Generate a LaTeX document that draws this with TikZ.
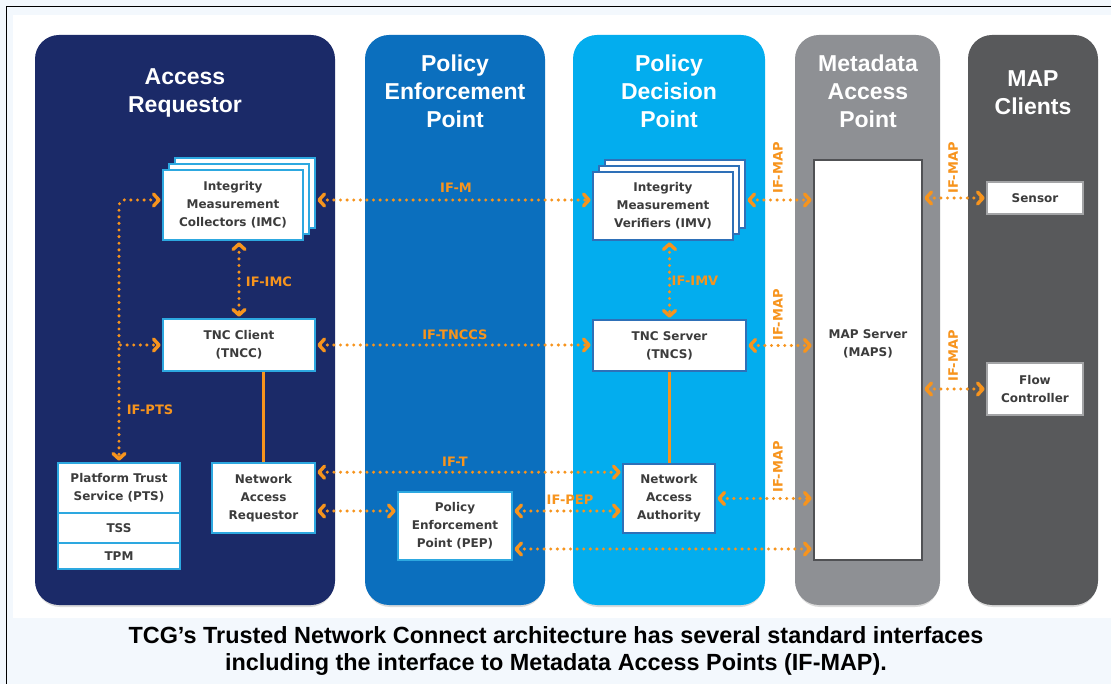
\documentclass[tikz,border=0pt]{standalone}
\usepackage{fontspec}
\setmainfont{Liberation Sans}
\newfontfamily\labelfont{DejaVu Sans}
\usetikzlibrary{arrows.meta,calc,shadows}

\definecolor{pagebg}{HTML}{F3F8FD}
\definecolor{arcol}{HTML}{1B2A68}
\definecolor{pepcol}{HTML}{0B6FBE}
\definecolor{pdpcol}{HTML}{03ADEE}
\definecolor{mapcol}{HTML}{8E9094}
\definecolor{clientcol}{HTML}{58595B}
\definecolor{ifcol}{HTML}{F7941D}
\definecolor{edgelight}{HTML}{2DA8E0}
\definecolor{edgepdp}{HTML}{2E70B8}
\definecolor{edgemap}{HTML}{505154}
\definecolor{edgeclient}{HTML}{A3A4A6}
\definecolor{boxtext}{HTML}{3C3C3C}

\tikzset{
  chev/.tip={Straight Barb[length=5.5pt,width=12pt,round]},
  column/.style={rounded corners=24pt},
  coltitle/.style={text=white, align=center, inner sep=0pt,
    font=\fontsize{23}{28}\selectfont\bfseries},
  box/.style={draw, fill=white, line width=1.6pt, inner sep=0pt, align=center,
    text=boxtext, font=\labelfont\fontsize{12}{18}\selectfont\bfseries},
  arbox/.style={box, draw=edgelight},
  pdpbox/.style={box, draw=edgepdp},
  mapbox/.style={box, draw=edgemap},
  clientbox/.style={box, draw=edgeclient},
  stacked/.style={double copy shadow={shadow xshift=6pt, shadow yshift=6pt,
    fill=white, draw=#1, line width=1.6pt}},
  boxlabel/.style={inner sep=0pt, align=center, text=boxtext,
    font=\labelfont\fontsize{12}{18}\selectfont\bfseries},
  ifline/.style={ifcol, line width=3.4pt, line cap=round,
    dash pattern=on 0pt off 6.6pt, arrows=chev-chev,
    shorten <=1.5pt, shorten >=1.5pt},
  link/.style={ifcol, line width=3pt},
  iflabel/.style={text=ifcol, inner sep=0pt,
    font=\labelfont\fontsize{13}{13}\selectfont\bfseries},
  caption/.style={align=center, inner sep=0pt, text=black,
    font=\fontsize{23.4}{27}\selectfont\bfseries},
}

\begin{document}
\begin{tikzpicture}[x=1pt,y=-1pt]
  % page, frame and white drawing area
  \useasboundingbox (0,0) rectangle (1111,684);
  \fill[pagebg] (0,0) rectangle (1111,684);
  \fill[white] (13,15) rectangle (1111,618);
  \draw[black, line width=1.6pt] (6.5,684) -- (6.5,6.5) -- (1111,6.5);

  % the five columns, each with a soft darker lower rim
  \foreach \xa/\xb/\col in {35/335/arcol, 365/545/pepcol, 573/765/pdpcol,
                            795/940/mapcol, 968/1098/clientcol} {
    \fill[black!55, opacity=0.25, column] (\xa+1,37) rectangle (\xb-1,607);
    \fill[\col, column] (\xa,35) rectangle (\xb,605);
  }

  \node[coltitle] (tar)  at (185,93)  {Access\\Requestor};
  \node[coltitle] (tpep) at (455,91)  {Policy\\Enforcement\\Point};
  \node[coltitle] (tpdp) at (669,91)  {Policy\\Decision\\Point};
  \node[coltitle] (tmap) at (868,91)  {Metadata\\Access\\Point};
  \node[coltitle] (tcli) at (1033,93) {MAP\\Clients};

  % Access Requestor
  \node[arbox, stacked=edgelight, minimum width=140pt, minimum height=70pt]
    (imc) at (233,205) {Integrity\\Measurement\\Collectors (IMC)};
  \node[arbox, minimum width=152pt, minimum height=52pt]
    (tncc) at (239,345) {TNC Client\\(TNCC)};
  \node[arbox, minimum width=122pt, minimum height=50pt]
    (pts) at (119,488) {Platform Trust\\Service (PTS)};
  \node[arbox, minimum width=122pt, minimum height=30pt]
    (tss) at (119,528) {TSS};
  \node[arbox, minimum width=122pt, minimum height=26pt]
    (tpm) at (119,556) {TPM};
  \node[arbox, minimum width=103pt, minimum height=70pt]
    (nar) at (263.5,498) {Network\\Access\\Requestor};

  % Policy Enforcement Point
  \node[arbox, minimum width=114pt, minimum height=68pt]
    (pep) at (455,526) {Policy\\Enforcement\\Point (PEP)};

  % Policy Decision Point
  \node[pdpbox, stacked=edgepdp, minimum width=140pt, minimum height=68pt]
    (imv) at (663,206) {Integrity\\Measurement\\Verifiers (IMV)};
  \node[pdpbox, minimum width=153pt, minimum height=51pt]
    (tncs) at (669.5,345.5) {TNC Server\\(TNCS)};
  \node[pdpbox, minimum width=92pt, minimum height=69pt]
    (naa) at (669,498.5) {Network\\Access\\Authority};

  % Metadata Access Point
  \node[mapbox, minimum width=108pt, minimum height=400pt]
    (maps) at (868,360) {};
  \node[boxlabel] (mapstext) at (868,344) {MAP Server\\(MAPS)};

  % MAP Clients
  \node[clientbox, minimum width=96pt, minimum height=32pt]
    (sensor) at (1035,198) {Sensor};
  \node[clientbox, minimum width=96pt, minimum height=52pt]
    (flow) at (1035,389) {Flow\\Controller};

  % solid links between client/server and the network components
  \draw[link] (tncc.south -| nar.north) -- (nar.north);
  \draw[link] (naa.north |- tncs.south) -- (naa.north);

  % interfaces
  \draw[ifline] ($(imc.east)+(12,-5)$) coordinate (ifm) -- (ifm -| imv.west);
  \draw[ifline] (tncc.north |- imc.south) -- (tncc.north);
  \draw[ifline, rounded corners=5pt] ($(imc.west)+(0,-5)$) -| (pts.north);
  \draw[ifline, arrows=-chev] (tncc.west -| pts.north) -- (tncc.west);
  \draw[ifline] (tncc.east) -- (tncc.east -| tncs.west);
  \draw[ifline] (tncs.north |- imv.south) -- (tncs.north);
  \draw[ifline] ($(nar.north east)+(0,10)$) coordinate (ift) -- (ift -| naa.west);
  \draw[ifline] ($(nar.east)+(0,13)$) coordinate (ifpep) -- (ifpep -| pep.west);
  \draw[ifline] (ifpep -| pep.east) -- (ifpep -| naa.west);
  \draw[ifline] ($(pep.east)+(0,23)$) coordinate (pepmap) -- (pepmap -| maps.west);
  \draw[ifline] ($(ifm -| imv.east)+(12,0)$) -- (ifm -| maps.west);
  \draw[ifline] (tncs.east) -- (tncs.east -| maps.west);
  \draw[ifline] (naa.east) -- (naa.east -| maps.west);
  \draw[ifline] (sensor.west -| maps.east) -- (sensor.west);
  \draw[ifline] (flow.west -| maps.east) -- (flow.west);

  % interface names
  \node[iflabel] (lm)     at (456,188) {IF-M};
  \node[iflabel] (limc)   at (269,282) {IF-IMC};
  \node[iflabel] (lpts)   at (150,410) {IF-PTS};
  \node[iflabel] (ltnccs) at (455,335) {IF-TNCCS};
  \node[iflabel] (limv)   at (695,281) {IF-IMV};
  \node[iflabel] (lt)     at (455,462) {IF-T};
  \node[iflabel] (lpep)   at (570,500) {IF-PEP};
  \node[iflabel, rotate=90] (lmap1) at (778,168) {IF-MAP};
  \node[iflabel, rotate=90] (lmap2) at (778,315) {IF-MAP};
  \node[iflabel, rotate=90] (lmap3) at (778,467) {IF-MAP};
  \node[iflabel, rotate=90] (lmap4) at (953,168) {IF-MAP};
  \node[iflabel, rotate=90] (lmap5) at (953,356) {IF-MAP};

  % caption
  \node[caption] (cap) at (556,651)
    {TCG’s Trusted Network Connect architecture has several standard interfaces\\
     including the interface to Metadata Access Points (IF-MAP).};
\end{tikzpicture}
\end{document}
